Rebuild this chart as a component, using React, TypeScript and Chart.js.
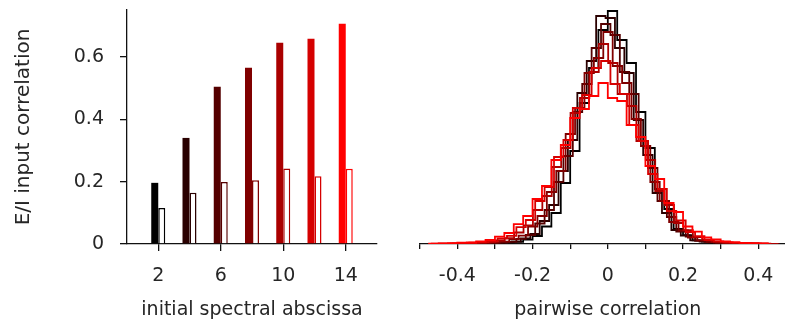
import React, { useEffect, useRef } from 'react';
import { Chart, registerables } from 'chart.js';

Chart.register(...registerables);

// Left panel: E/I input correlation per initial spectral abscissa
const abscissa = [2, 4, 6, 8, 10, 12, 14];
const eiCorrA = [0.196, 0.34, 0.504, 0.565, 0.645, 0.658, 0.706];
const eiCorrB = [0.115, 0.164, 0.199, 0.204, 0.242, 0.217, 0.241];

const ratioTicks = [0, 0.2, 0.4, 0.6];
const ratioTickLabels = ['0', '0.2', '0.4', '0.6'];
const abscissaTicks = [2, 6, 10, 14];
const abscissaTickLabels = ['2', '6', '10', '14'];

// Right panel: histograms of pairwise correlations (pairs per bin)
const corrTicks = [-0.5, -0.4, -0.3, -0.2, -0.1, 0, 0.1, 0.2, 0.3, 0.4, 0.5];
const corrTickLabels = ['', '-0.4', '', '-0.2', '', '0', '', '0.2', '', '0.4', ''];

const binWidth = 0.025;
const histLo = [-0.45, -0.456, -0.443, -0.462, -0.449, -0.468, -0.475];

const pairsSa2 = [0, 0, 0, 2, 4, 7, 10, 16, 22, 43, 80, 175, 310, 610, 930, 1410, 1760, 2140, 2330, 2040, 1810, 1320, 960, 550, 350, 150, 88, 36, 24, 14, 10, 6, 4, 2, 0, 0];
const pairsSa4 = [0, 0, 2, 3, 5, 8, 11, 17, 25, 56, 100, 230, 390, 730, 1040, 1510, 1830, 2280, 2260, 1960, 1710, 1240, 890, 510, 310, 140, 85, 36, 23, 13, 9, 6, 4, 2, 0, 0];
const pairsSa6 = [0, 2, 3, 5, 7, 10, 15, 22, 51, 90, 205, 340, 620, 880, 1320, 1600, 1960, 2200, 2090, 1720, 1500, 1030, 760, 430, 270, 125, 73, 32, 21, 13, 9, 6, 4, 2, 1, 0];
const pairsSa8 = [0, 2, 3, 5, 8, 11, 16, 23, 49, 84, 175, 280, 520, 730, 1100, 1360, 1710, 1860, 2120, 1780, 1610, 1250, 980, 620, 430, 220, 135, 65, 37, 21, 15, 10, 6, 4, 2, 1];
const pairsSa10 = [3, 4, 6, 9, 14, 18, 35, 58, 115, 186, 340, 480, 770, 960, 1310, 1460, 1720, 2000, 1810, 1500, 1380, 1030, 840, 530, 390, 210, 138, 70, 44, 24, 17, 11, 7, 5, 3, 2];
const pairsSa12 = [3, 4, 6, 9, 13, 20, 27, 55, 82, 168, 240, 430, 570, 870, 1040, 1360, 1490, 1760, 1830, 1600, 1500, 1190, 1030, 700, 550, 330, 235, 120, 79, 40, 27, 17, 12, 8, 5, 3];
const pairsSa14 = [4, 6, 9, 13, 15, 27, 40, 74, 110, 198, 280, 450, 580, 840, 990, 1260, 1350, 1480, 1610, 1460, 1430, 1190, 1070, 780, 650, 410, 320, 175, 124, 65, 46, 26, 19, 11, 8, 5];

const histograms = [pairsSa2, pairsSa4, pairsSa6, pairsSa8, pairsSa10, pairsSa12, pairsSa14];
const shades = [
  'rgb(0,0,0)',
  'rgb(42,0,0)',
  'rgb(85,0,0)',
  'rgb(128,0,0)',
  'rgb(170,0,0)',
  'rgb(213,0,0)',
  'rgb(255,0,0)',
];

const FONT = 'DejaVu Sans';
const TEXT = '#262626';
const AXIS = '#111111';

// outline of a histogram: each bin's count held from its left edge to its right edge
function stepPoints(lo: number, counts: number[]) {
  const pts: { x: number; y: number }[] = [{ x: lo, y: 0 }];
  counts.forEach((c, i) => pts.push({ x: lo + (i + 1) * binWidth, y: c }));
  const hi = lo + counts.length * binWidth;
  pts.push({ x: hi, y: 0 });
  return pts;
}

// keep the plot area exactly where the layout padding puts it
function noAutoPad(s: any) {
  s.paddingTop = 0;
  s.paddingBottom = 0;
  s.paddingLeft = 0;
  s.paddingRight = 0;
}

function BarPanel() {
  const ref = useRef<HTMLCanvasElement>(null);
  useEffect(() => {
    const chart = new Chart(ref.current!, {
      type: 'bar',
      data: {
        datasets: [
          {
            data: abscissa.map((x, i) => ({ x, y: eiCorrA[i] })),
            backgroundColor: shades,
            borderWidth: 0,
            categoryPercentage: 0.448,
            barPercentage: 1,
          },
          {
            data: abscissa.map((x, i) => ({ x, y: eiCorrB[i] })),
            backgroundColor: '#ffffff',
            borderColor: shades,
            borderWidth: 1.5,
            categoryPercentage: 0.448,
            barPercentage: 1,
          },
        ],
      },
      options: {
        animation: false,
        responsive: false,
        devicePixelRatio: 1,
        layout: { padding: { left: 0, right: 23, top: 10, bottom: 0 } },
        plugins: { legend: { display: false }, tooltip: { enabled: false } },
        scales: {
          x: {
            type: 'linear',
            min: 0,
            max: 16,
            offset: false,
            grid: { display: true, offset: false, drawOnChartArea: false, drawTicks: true, tickLength: 7, color: AXIS, lineWidth: 1.3 },
            border: { display: true, color: AXIS, width: 1.3 },
            afterBuildTicks: (s: any) => { s.ticks = abscissaTicks.map((v) => ({ value: v })); },
            afterFit: (s: any) => { s.height = 81; noAutoPad(s); },
            ticks: {
              padding: 14,
              color: TEXT,
              font: { family: FONT, size: 19 },
              maxRotation: 0,
              autoSkip: false,
              callback: (_v: any, i: number) => abscissaTickLabels[i],
            },
            title: {
              display: true,
              text: 'initial spectral abscissa',
              color: TEXT,
              font: { family: FONT, size: 19 },
              padding: { top: 0, bottom: 4 },
            },
          },
          y: {
            min: 0,
            max: 0.75,
            grid: { display: true, drawOnChartArea: false, drawTicks: true, tickLength: 7, color: AXIS, lineWidth: 1.3 },
            border: { display: true, color: AXIS, width: 1.3 },
            afterBuildTicks: (s: any) => { s.ticks = ratioTicks.map((v) => ({ value: v })); },
            afterFit: (s: any) => { s.width = 127; noAutoPad(s); },
            ticks: {
              padding: 16,
              color: TEXT,
              font: { family: FONT, size: 19 },
              callback: (_v: any, i: number) => ratioTickLabels[i],
            },
            title: {
              display: true,
              text: 'E/I input correlation',
              color: TEXT,
              font: { family: FONT, size: 20 },
              padding: { top: 12, bottom: 0 },
            },
          },
        },
      },
    } as any);
    return () => chart.destroy();
  }, []);
  return <canvas ref={ref} width={400} height={325} style={{ position: 'absolute', left: 0, top: 0 }} />;
}

function HistPanel() {
  const ref = useRef<HTMLCanvasElement>(null);
  useEffect(() => {
    const chart = new Chart(ref.current!, {
      type: 'line',
      data: {
        datasets: histograms.map((counts, k) => ({
          data: stepPoints(histLo[k], counts),
          borderColor: shades[k],
          borderWidth: 1.8,
          pointRadius: 0,
          fill: false,
          stepped: 'after',
          tension: 0,
          order: shades.length - 1 - k,
        })),
      },
      options: {
        animation: false,
        responsive: false,
        devicePixelRatio: 1,
        layout: { padding: { left: 19.7, right: 4.1, top: 10, bottom: 0 } },
        plugins: { legend: { display: false }, tooltip: { enabled: false } },
        scales: {
          x: {
            type: 'linear',
            min: -0.5,
            max: 0.5,
            grid: { display: true, drawOnChartArea: false, drawTicks: true, tickLength: 5, color: AXIS, lineWidth: 1.3 },
            border: { display: true, color: AXIS, width: 1.3 },
            afterBuildTicks: (s: any) => { s.ticks = corrTicks.map((v) => ({ value: v })); },
            afterFit: (s: any) => { s.height = 81; noAutoPad(s); },
            ticks: {
              padding: 16,
              color: TEXT,
              font: { family: FONT, size: 19 },
              maxRotation: 0,
              autoSkip: false,
              callback: (_v: any, i: number) => corrTickLabels[i],
            },
            title: {
              display: true,
              text: 'pairwise correlation',
              color: TEXT,
              font: { family: FONT, size: 19 },
              padding: { top: 0, bottom: 4 },
            },
          },
          y: { display: false, min: 0, max: 2340 },
        },
      },
    } as any);
    return () => chart.destroy();
  }, []);
  return <canvas ref={ref} width={400} height={325} style={{ position: 'absolute', left: 400, top: 0 }} />;
}

export default function App() {
  return (
    <div style={{ position: 'fixed', left: 0, top: 0, width: 785, height: 325, overflow: 'hidden', background: '#ffffff' }}>
      <BarPanel />
      <HistPanel />
    </div>
  );
}
